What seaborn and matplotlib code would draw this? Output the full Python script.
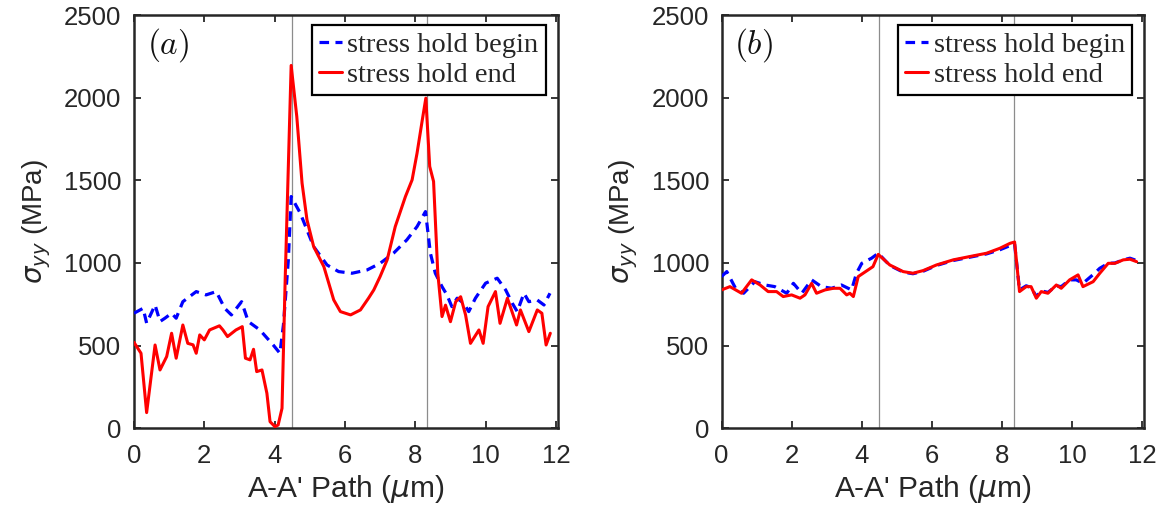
import numpy as np
import pandas as pd
import matplotlib
matplotlib.use("Agg")
import matplotlib.pyplot as plt
import seaborn as sns

# ---------------- data ----------------
a_end_x = [0.0, 0.2, 0.36, 0.6, 0.74, 0.93, 1.07, 1.2, 1.39, 1.53, 1.68, 1.77, 1.87, 2.0, 2.15,
           2.43, 2.53, 2.66, 2.9, 3.08, 3.17, 3.3, 3.4, 3.49, 3.64, 3.78, 3.87, 4.01, 4.1, 4.21,
           4.3, 4.47, 4.63, 4.78, 4.92, 5.11, 5.4, 5.68, 5.87, 6.16, 6.44, 6.67, 6.82, 7.0, 7.2,
           7.43, 7.72, 7.91, 8.05, 8.2, 8.3, 8.41, 8.52, 8.64, 8.76, 8.86, 9.0, 9.15, 9.29, 9.43,
           9.57, 9.81, 9.93, 10.07, 10.28, 10.41, 10.62, 10.88, 10.99, 11.23, 11.47, 11.6, 11.72, 11.84]
a_end_y = [520, 454, 95, 504, 353, 434, 575, 424, 625, 514, 505, 454, 565, 535, 595,
           620, 595, 555, 595, 615, 424, 414, 478, 343, 353, 212, 40, 10, 20, 121,
           900, 2195, 1886, 1483, 1261, 1099, 978, 777, 706, 686, 716, 787, 837, 918, 1019,
           1220, 1402, 1503, 1664, 1866, 1997, 1584, 1493, 938, 676, 745, 645, 766, 796, 686,
           514, 595, 514, 736, 827, 635, 787, 625, 716, 585, 716, 696, 504, 575]

a_begin_x = [0.0, 0.26, 0.36, 0.6, 0.74, 0.88, 1.07, 1.2, 1.39, 1.77, 2.05, 2.34, 2.58, 2.77,
             3.06, 3.25, 3.58, 3.96, 4.15, 4.25, 4.39, 4.47, 4.73, 5.11, 5.49, 5.82, 6.2, 6.63,
             7.0, 7.38, 7.76, 8.05, 8.29, 8.43, 8.57, 8.76, 8.9, 9.04, 9.19, 9.38, 9.52, 9.71,
             10.0, 10.33, 10.57, 10.76, 10.9, 11.09, 11.23, 11.47, 11.66, 11.83]
a_begin_y = [696, 726, 636, 746, 646, 666, 696, 666, 766, 827, 807, 827, 726, 686,
             766, 646, 595, 504, 454, 625, 1019, 1402, 1301, 1099, 988, 948, 938, 958,
             998, 1059, 1140, 1220, 1311, 1059, 938, 857, 807, 736, 787, 756, 706, 787,
             878, 908, 837, 756, 706, 817, 766, 776, 746, 817]

b_end_x = [0.0, 0.24, 0.57, 0.86, 1.1, 1.33, 1.57, 1.76, 2.0, 2.24, 2.38, 2.57, 2.71, 2.95,
           3.19, 3.38, 3.57, 3.66, 3.76, 3.9, 4.18, 4.32, 4.47, 4.8, 5.18, 5.46, 5.75, 6.13,
           6.61, 7.08, 7.56, 7.94, 8.23, 8.36, 8.5, 8.69, 8.83, 8.98, 9.12, 9.31, 9.55, 9.69,
           9.93, 10.17, 10.31, 10.6, 10.79, 11.03, 11.22, 11.46, 11.65, 11.84]
b_end_y = [837, 857, 817, 898, 867, 827, 827, 797, 807, 787, 807, 877, 817, 837,
           847, 847, 807, 817, 797, 918, 958, 978, 1052, 988, 948, 938, 954, 988,
           1019, 1039, 1059, 1089, 1119, 1127, 827, 857, 857, 787, 827, 817, 867, 847,
           898, 928, 857, 887, 938, 998, 998, 1019, 1023, 1008]

b_begin_x = [0.0, 0.15, 0.4, 0.63, 0.95, 1.24, 1.52, 1.86, 2.05, 2.29, 2.57, 2.85, 3.14, 3.42,
             3.71, 3.85, 4.0, 4.28, 4.47, 4.8, 5.18, 5.46, 5.75, 6.13, 6.61, 7.08, 7.56, 7.94,
             8.23, 8.36, 8.5, 8.69, 8.83, 8.98, 9.12, 9.31, 9.55, 9.69, 9.93, 10.12, 10.31,
             10.6, 10.79, 11.03, 11.22, 11.46, 11.65, 11.84]
b_begin_y = [918, 948, 847, 817, 887, 867, 857, 817, 877, 817, 898, 857, 847, 867,
             837, 938, 998, 1029, 1059, 985, 945, 935, 950, 985, 1015, 1035, 1055, 1080,
             1105, 1115, 837, 862, 852, 797, 832, 822, 862, 857, 898, 898, 877,
             930, 968, 998, 1000, 1019, 1029, 1015]

interfaces = [4.48, 8.34]
panel_labels = ["$(a)$", "$(b)$"]
series_labels = ["stress hold begin", "stress hold end"]
x_ticks = [0, 2, 4, 6, 8, 10, 12]
y_ticks = [0, 500, 1000, 1500, 2000, 2500]

# ---------------- style ----------------
sns.set_style("ticks")
plt.rcParams['font.family'] = ['Liberation Sans', 'DejaVu Sans']
plt.rcParams['mathtext.fontset'] = 'dejavusans'
txt_color = '#262626'

fig = plt.figure(figsize=(11.66, 5.14), dpi=100)
ax_a = fig.add_axes([0.1149, 0.1667, 0.3634, 0.8041])
ax_b = fig.add_axes([0.6188, 0.1667, 0.3623, 0.8041])

panels = [
    (ax_a, a_begin_x, a_begin_y, a_end_x, a_end_y, panel_labels[0]),
    (ax_b, b_begin_x, b_begin_y, b_end_x, b_end_y, panel_labels[1]),
]

for ax, bx, by, ex, ey, lab in panels:
    for xv in interfaces:
        ax.axvline(xv, color='#8c8c8c', lw=0.9, zorder=1)
    df_b = pd.DataFrame({'x': bx, 'y': by})
    df_e = pd.DataFrame({'x': ex, 'y': ey})
    sns.lineplot(data=df_b, x='x', y='y', ax=ax, color='#0000ff', lw=2.3,
                 linestyle=(0, (3.0, 2.0)), label=series_labels[0], sort=False,
                 estimator=None, zorder=3)
    sns.lineplot(data=df_e, x='x', y='y', ax=ax, color='#ff0000', lw=2.2,
                 label=series_labels[1], sort=False, estimator=None, zorder=4)
    ax.set_xlim(0, 12.05)
    ax.set_ylim(0, 2500)
    ax.set_xticks(x_ticks)
    ax.set_yticks(y_ticks)
    ax.tick_params(direction='in', length=5, width=1.3, top=True, right=True,
                   labelsize=18.5, colors=txt_color)
    ax.tick_params(axis='x', pad=11)
    ax.tick_params(axis='y', pad=9)
    for sp in ax.spines.values():
        sp.set_linewidth(1.8)
        sp.set_color('#262626')
    ax.set_xlabel("A-A' Path ($\\mu$m)", fontsize=21.5, color=txt_color, labelpad=4)
    ax.set_ylabel("$\\sigma_{yy}$ (MPa)", fontsize=20, color=txt_color, labelpad=8)
    ax.text(0.03, 0.972, lab, transform=ax.transAxes, fontsize=24, va='top', ha='left',
            math_fontfamily='cm', color='#111111')
    leg = ax.legend(loc='upper right', bbox_to_anchor=(0.985, 0.99), frameon=True,
                    fancybox=False, edgecolor='black', framealpha=1,
                    prop={'family': ['Liberation Serif', 'DejaVu Serif'], 'size': 20.5},
                    handlelength=0.8, handletextpad=0.2, borderpad=0.25,
                    labelspacing=0.15, borderaxespad=0.2)
    leg.get_frame().set_linewidth(1.6)

fig.savefig("out.png", dpi=100)
